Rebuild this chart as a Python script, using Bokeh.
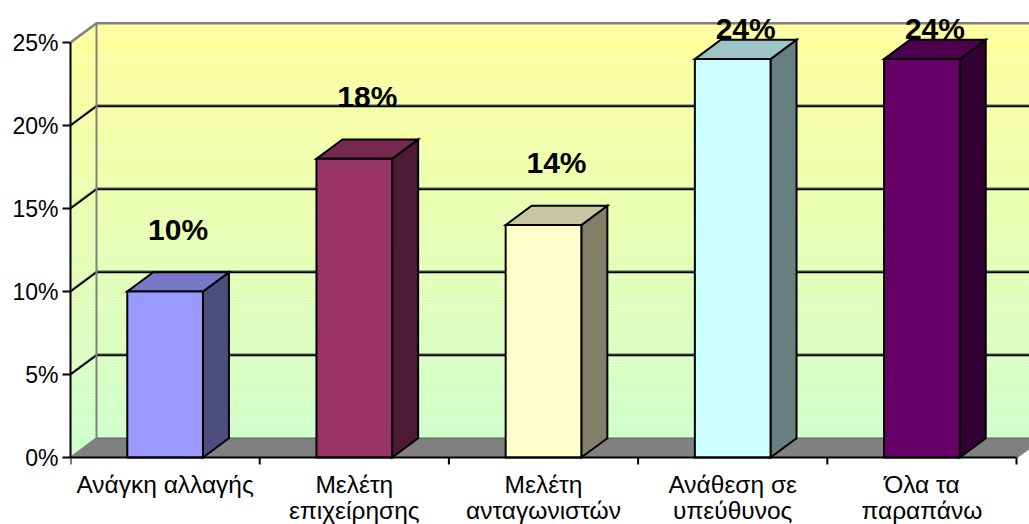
from bokeh.plotting import figure
from bokeh.models import FixedTicker, PrintfTickFormatter, ColumnDataSource, Range1d
from bokeh.embed import file_html
from bokeh.resources import INLINE
from bokeh.core.properties import value

# Survey answers and their shares (%)
categories = ["Ανάγκη αλλαγής", "Μελέτη\nεπιχείρησης", "Μελέτη\nανταγωνιστών",
              "Ανάθεση σε\nυπεύθυνος", "Όλα τα\nπαραπάνω"]
shares = [10, 18, 14, 24, 24]
y_ticks = [0, 5, 10, 15, 20, 25]

# Face colours of each column: front, top, right side
front_colors = ["#9999FF", "#993366", "#FFFFCC", "#CCFFFF", "#660066"]
top_colors = ["#7878C8", "#772851", "#C6C6A2", "#9CC4C4", "#4E004E"]
side_colors = ["#4D4D80", "#4D1A33", "#808066", "#668080", "#330033"]

FONT = "Liberation Sans"
W, H = 1029, 524
LEFT = 70
FLOOR_PX = 457                    # canvas row of the 0 % line
PX_X, PX_Y = 189.2, 16.6          # pixels per category / per percent
X_END = (W - LEFT) / PX_X
Y_END = FLOOR_PX / PX_Y
Y_START = -(H - FLOOR_PX) / PX_Y  # room under the floor for the category names
DX, DY = 26 / PX_X, 19.3 / PX_Y   # depth offset of the 3-D box
HALF = 0.2                        # half width of a column front
Y_MAX = y_ticks[-1]
TOP = Y_MAX + DY
N = len(categories)

p = figure(width=W, height=H, output_backend="svg", toolbar_location=None,
           x_range=Range1d(0, X_END), y_range=Range1d(Y_START, Y_END),
           min_border_left=LEFT, min_border_right=0, min_border_top=0,
           min_border_bottom=0, outline_line_color=None,
           background_fill_color="white", border_fill_color="white")
p.grid.visible = False
p.xaxis.visible = False

# Walls: vertical gradient from pale green (floor) to pale yellow (top)
n_bands = 140
lo, hi = (204, 255, 204), (255, 255, 153)
bottoms, tops, colors = [], [], []
for k in range(n_bands):
    t = (k + 0.5) / n_bands
    bottoms.append(TOP * k / n_bands)
    tops.append(TOP * (k + 1) / n_bands)
    r, g, b = (round(lo[j] + (hi[j] - lo[j]) * t) for j in range(3))
    colors.append(f"#{r:02X}{g:02X}{b:02X}")
p.quad(left=0, right=X_END, bottom=bottoms, top=tops, fill_color=colors, line_color=None)
# blank corner above the side wall
p.patch([0, DX, 0], [Y_MAX, TOP, TOP + 0.01], fill_color="white", line_color=None)

# Floor
p.patch([0, N, N + DX, DX], [0, 0, DY, DY], fill_color="#808080", line_color=None)
p.patch([N, N + DX, N + DX], [0, DY, -0.5], fill_color="white", line_color=None)
p.line([DX, X_END], [DY, DY], line_color="#6A6A6A", line_width=1.5)
p.line([N, N + DX], [0, DY], line_color="#808080", line_width=2)
p.line([0, DX], [0, DY], line_color="#808080", line_width=2)

# Gridlines across side wall and back wall, each with a faint grey rim above
SHADE = 1.5 / PX_Y
grid_xs, grid_ys, rim_ys = [], [], []
for v in y_ticks[1:-1]:
    grid_xs.append([0, DX, X_END])
    grid_ys.append([v, v + DY, v + DY])
    rim_ys.append([v + SHADE, v + DY + SHADE, v + DY + SHADE])
p.multi_line(grid_xs, rim_ys, line_color="#909090", line_width=1)
p.multi_line(grid_xs, grid_ys, line_color="black", line_width=2)

# Wall borders
p.line([DX, DX], [DY, TOP], line_color="#808080", line_width=2)
p.line([0, DX, X_END], [Y_MAX, TOP, TOP], line_color="#808080", line_width=2.5)

# Columns
centers = [i + 0.5 for i in range(N)]
side_xs = [[c + HALF, c + HALF + DX, c + HALF + DX, c + HALF] for c in centers]
side_ys = [[0, DY, v + DY, v] for v in shares]
top_xs = [[c - HALF, c + HALF, c + HALF + DX, c - HALF + DX] for c in centers]
top_ys = [[v, v, v + DY, v + DY] for v in shares]
p.patches(side_xs, side_ys, fill_color=side_colors, line_color="black", line_width=2,
          line_join="miter")
p.patches(top_xs, top_ys, fill_color=top_colors, line_color="black", line_width=2,
          line_join="miter")
p.quad(left=[c - HALF for c in centers], right=[c + HALF for c in centers],
       bottom=0, top=shares, fill_color=front_colors, line_color="black", line_width=2,
       line_join="miter")

# Value labels, centred a little above each column (kept under the top border)
lab = ColumnDataSource(dict(
    x=[c + DX / 2 for c in centers],
    y=[min(v + 3.75, Y_MAX + 0.84) for v in shares],
    text=[f"{v}%" for v in shares]))
p.text("x", "y", "text", source=lab, text_font=value(FONT), text_font_style="bold",
       text_font_size="30px", text_color="black", text_align="center",
       text_baseline="middle")

# Category axis along the front edge of the floor, ticks between categories
TICK = 7 / PX_Y
bounds = list(range(N + 1))
p.line([0, N], [0, 0], line_color="black", line_width=2)
p.segment(x0=bounds, y0=[0] * len(bounds), x1=bounds, y1=[-TICK] * len(bounds),
          line_color="black", line_width=2)

# Category names, one row per text line
ROW_CENTRES = (27.0, 52.5)        # pixels below the axis
for row, below in enumerate(ROW_CENTRES):
    texts = []
    for name in categories:
        parts = name.split("\n")
        texts.append(parts[row] if row < len(parts) else "")
    src = ColumnDataSource(dict(x=centers, y=[-below / PX_Y] * N, text=texts))
    p.text("x", "y", "text", source=src, text_font=value(FONT), text_font_size="24.5px",
           text_color="black", text_align="center", text_baseline="middle")

# Percentage axis
ya = p.yaxis[0]
ya.ticker = FixedTicker(ticks=y_ticks, minor_ticks=[])
ya.formatter = PrintfTickFormatter(format="%d%%")
ya.bounds = (0, Y_MAX)
ya.axis_line_color = "black"
ya.axis_line_width = 2
ya.major_tick_in = 0
ya.major_tick_out = 8
ya.major_tick_line_color = "black"
ya.major_tick_line_width = 2
ya.major_label_standoff = 4
ya.major_label_text_font = FONT
ya.major_label_text_font_size = "23px"
ya.major_label_text_color = "black"

open("out.html", "w").write(file_html(p, INLINE))
